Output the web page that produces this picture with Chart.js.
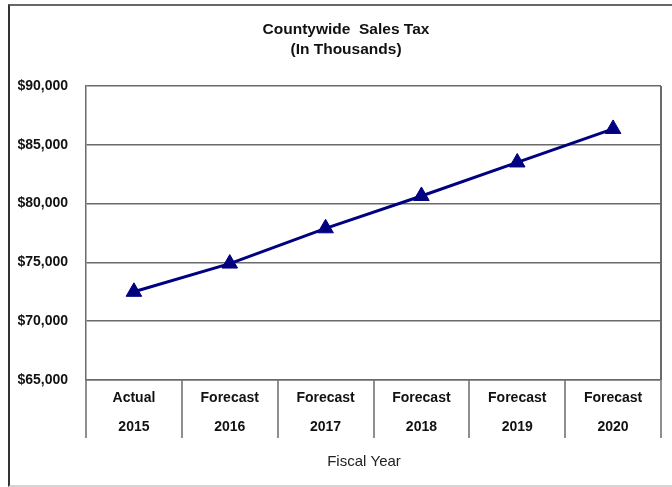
<!DOCTYPE html>
<html>
<head>
<meta charset="utf-8">
<script src="https://cdn.jsdelivr.net/npm/chart.js@4/dist/chart.umd.min.js"></script>
<style>
  html, body { margin: 0; padding: 0; background: #fff; }
  #wrap { position: relative; width: 672px; height: 487px; overflow: hidden; }
  #frame {
    position: absolute; left: 8px; top: 4px; width: 700px; height: 479px;
    border-left: 2px solid #333; border-top: 2px solid #666; border-bottom: 2px solid #d4d4d4;
  }
  canvas { position: absolute; left: 0; top: 0; }
</style>
</head>
<body>
<div id="wrap">
  <div id="frame"></div>
  <canvas id="chart" width="672" height="487"></canvas>
</div>
<script>
// Fiscal years and the county's sales tax receipts (in thousands of dollars)
const periods = ['Actual', 'Forecast', 'Forecast', 'Forecast', 'Forecast', 'Forecast'];
const years = ['2015', '2016', '2017', '2018', '2019', '2020'];
const salesTax = [72500, 74900, 77900, 80650, 83500, 86350];
const yTicks = [65000, 70000, 75000, 80000, 85000, 90000];
const titleLines = ['Countywide  Sales Tax', '(In Thousands)'];
const xCaption = 'Fiscal Year';

const FONT = '"Liberation Sans", Arial, Helvetica, sans-serif';
const GRID = '#6a6a6a';
const NAVY = '#000080';

// Title and x caption drawn as plain canvas text
const captions = {
  id: 'captions',
  afterDraw(chart) {
    const ctx = chart.ctx;
    ctx.save();
    ctx.fillStyle = '#111';
    ctx.textAlign = 'center';
    ctx.textBaseline = 'middle';
    ctx.font = 'bold 15.5px ' + FONT;
    titleLines.forEach((t, i) => ctx.fillText(t, 346, 30 + i * 20));
    ctx.font = '15px ' + FONT;
    ctx.fillStyle = '#222';
    ctx.fillText(xCaption, 364, 462);
    ctx.restore();
  }
};

new Chart(document.getElementById('chart'), {
  type: 'line',
  data: {
    labels: periods.map((p, i) => [p, years[i]]),
    datasets: [{
      data: salesTax,
      borderColor: NAVY,
      borderWidth: 3,
      tension: 0,
      pointStyle: 'triangle',
      pointRadius: 9,
      pointBackgroundColor: NAVY,
      pointBorderColor: NAVY,
      pointBorderWidth: 1
    }]
  },
  options: {
    responsive: false,
    animation: false,
    devicePixelRatio: 1,
    layout: { padding: { left: 18, right: 11, top: 86, bottom: 49 } },
    plugins: { legend: { display: false }, tooltip: { enabled: false }, title: { display: false } },
    scales: {
      x: {
        offset: true,
        grid: {
          offset: true,
          drawOnChartArea: true,
          color: c => (c.type === 'scale' ? GRID : 'transparent'),
          lineWidth: 2,
          tickLength: 58,
          tickColor: GRID,
          tickWidth: 1.5
        },
        border: { display: true, color: GRID, width: 1.5 },
        ticks: {
          maxRotation: 0,
          autoSkip: false,
          padding: -54.5,
          color: '#111',
          font: { family: FONT, size: 14, weight: 'bold', lineHeight: 29 / 14 }
        },
        afterFit(scale) { scale.height = 58; }
      },
      y: {
        min: 65000,
        max: 90000,
        afterBuildTicks(scale) { scale.ticks = yTicks.map(v => ({ value: v })); },
        grid: { color: GRID, lineWidth: 1.5, drawTicks: false },
        border: { display: true, color: GRID, width: 1.5 },
        ticks: {
          padding: 18,
          color: '#111',
          font: { family: FONT, size: 14, weight: 'bold' },
          callback: v => '$' + Number(v).toLocaleString('en-US')
        },
        afterFit(scale) { scale.width = 68; }
      }
    }
  },
  plugins: [captions]
});
</script>
</body>
</html>
